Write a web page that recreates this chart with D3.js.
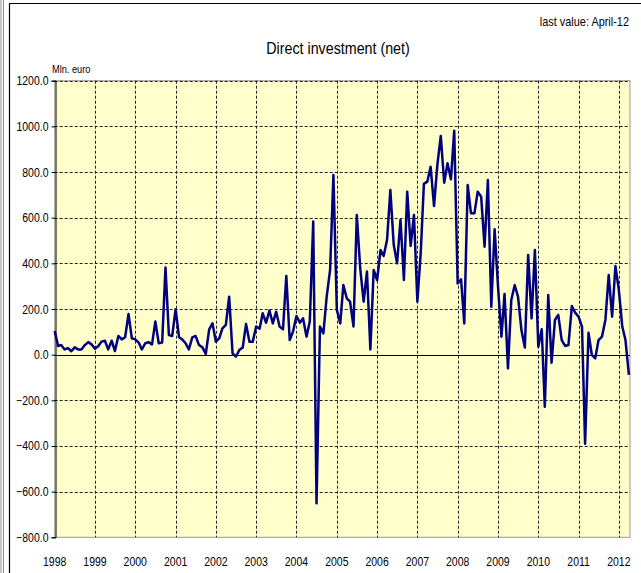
<!DOCTYPE html>
<html lang="en">
<head>
    <meta charset="UTF-8">
    <title>Direct investment (net)</title>
    <script src="https://cdnjs.cloudflare.com/ajax/libs/d3/7.8.5/d3.min.js"></script>
    <style>
        body { margin: 0; background: #fff; }
        text { font-family: "Liberation Sans Narrow", "Arial Narrow", "Liberation Sans", sans-serif; fill: #000; }
    </style>
</head>
<body>
    <div id="draw-here"></div>

    <script>
        var w = 641;
        var h = 573;
        var narrow = 0.84; //horizontal squeeze to mimic the narrow font

        // years shown on the x axis
        var years = [1998, 1999, 2000, 2001, 2002, 2003, 2004, 2005, 2006, 2007, 2008, 2009, 2010, 2011, 2012];

        // monthly net direct investment, Mln. euro (one row per year, Jan..Dec)
        var values1998 = [104, 38, 42, 23, 29, 15, 32, 23, 23, 42, 55, 45];
        var values1999 = [26, 38, 57, 61, 23, 61, 16, 82, 67, 76, 178, 72];
        var values2000 = [67, 53, 23, 50, 55, 45, 145, 50, 53, 382, 86, 82];
        var values2001 = [199, 76, 67, 50, 23, 76, 82, 42, 32, 3, 111, 137];
        var values2002 = [57, 72, 115, 130, 254, 6, -9, 20, 31, 134, 57, 57];
        var values2003 = [123, 114, 181, 140, 193, 137, 188, 123, 111, 345, 64, 101];
        var values2004 = [169, 140, 159, 79, 145, 583, -651, 123, 93, 254, 371, 787];
        var values2005 = [196, 137, 305, 247, 232, 123, 612, 378, 232, 364, 23, 371];
        var values2006 = [327, 458, 432, 502, 721, 480, 400, 590, 327, 714, 476, 612];
        var values2007 = [232, 451, 748, 758, 823, 651, 831, 958, 753, 838, 768, 981];
        var values2008 = [312, 330, 137, 743, 619, 619, 714, 692, 473, 765, 210, 549];
        var values2009 = [298, 79, 266, -60, 239, 305, 254, 108, 31, 437, 159, 458];
        var values2010 = [35, 111, -228, 261, -35, 152, 174, 64, 38, 42, 213, 184];
        var values2011 = [166, 123, -390, 96, -1, -16, 64, 79, 152, 349, 166, 388];
        var values2012 = [283, 123, 64, -89];

        // y axis ticks
        var yTicks = [-800, -600, -400, -200, 0, 200, 400, 600, 800, 1000, 1200];

        var rows = [values1998, values1999, values2000, values2001, values2002, values2003, values2004,
            values2005, values2006, values2007, values2008, values2009, values2010, values2011, values2012];

        //flatten into dated points
        var data = [];
        rows.forEach(function (row, yi) {
            row.forEach(function (v, mi) {
                data.push({ date: new Date(years[yi], mi, 1), value: v });
            });
        });

        var plot = { left: 54.7, top: 80.7, right: 630, bottom: 537.3 };

        var x = d3.scaleTime()
            .domain([new Date(1998, 0, 1), new Date(2012, 3, 11)])
            .range([plot.left, plot.right]);

        var y = d3.scaleLinear()
            .domain([-800, 1200])
            .range([plot.bottom, plot.top]);

        var svg = d3.select("#draw-here")
            .append("svg")
            .attr("width", w)
            .attr("height", h);

        //text helper: places text at (px,py) and squeezes it horizontally
        function label(txt, px, py, size, anchor) {
            return svg.append("text")
                .attr("transform", "translate(" + px + "," + py + ") scale(" + narrow + ",1)")
                .attr("text-anchor", anchor)
                .attr("font-size", size)
                .text(txt);
        }

        //outer frame (left edge and top)
        svg.append("line").attr("x1", 1).attr("x2", 1).attr("y1", 0).attr("y2", h)
            .attr("stroke", "#8a8a8a").attr("stroke-width", 1);
        svg.append("line").attr("x1", 3.5).attr("x2", 3.5).attr("y1", 0).attr("y2", h)
            .attr("stroke", "#8a8a8a").attr("stroke-width", 1);
        svg.append("line").attr("x1", 9.5).attr("x2", 9.5).attr("y1", 3.5).attr("y2", h)
            .attr("stroke", "#000").attr("stroke-width", 1.2);
        svg.append("line").attr("x1", 9.5).attr("x2", w).attr("y1", 3.5).attr("y2", 3.5)
            .attr("stroke", "#000").attr("stroke-width", 1.2);

        //plot background
        svg.append("rect")
            .attr("x", plot.left)
            .attr("y", plot.top)
            .attr("width", plot.right - plot.left)
            .attr("height", plot.bottom - plot.top)
            .attr("fill", "#ffffcc")
            .attr("stroke", "#9a9a9a")
            .attr("stroke-width", 1);

        //horizontal grid
        svg.selectAll(".hgrid")
            .data(yTicks.filter(function (d) { return d !== 0 && d !== -800; }))
            .enter()
            .append("line")
            .attr("class", "hgrid")
            .attr("x1", plot.left)
            .attr("x2", plot.right)
            .attr("y1", function (d) { return Math.round(y(d)) + 0.5; })
            .attr("y2", function (d) { return Math.round(y(d)) + 0.5; })
            .attr("stroke", "#222")
            .attr("stroke-width", 1)
            .attr("stroke-dasharray", "3,2");

        //vertical grid (January of each year)
        svg.selectAll(".vgrid")
            .data(years.slice(1))
            .enter()
            .append("line")
            .attr("class", "vgrid")
            .attr("x1", function (d) { return Math.round(x(new Date(d, 0, 1))) + 0.5; })
            .attr("x2", function (d) { return Math.round(x(new Date(d, 0, 1))) + 0.5; })
            .attr("y1", plot.top)
            .attr("y2", plot.bottom)
            .attr("stroke", "#222")
            .attr("stroke-width", 1)
            .attr("stroke-dasharray", "3,2");

        //zero line
        svg.append("line")
            .attr("x1", plot.left)
            .attr("x2", plot.right)
            .attr("y1", Math.round(y(0)) + 0.5)
            .attr("y2", Math.round(y(0)) + 0.5)
            .attr("stroke", "#000")
            .attr("stroke-width", 1);

        //y axis
        var yAxis = d3.axisLeft(y)
            .tickValues(yTicks)
            .tickSize(4)
            .tickFormat(d3.format(".1f"));

        var gy = svg.append("g")
            .attr("transform", "translate(" + (Math.round(plot.left) + 0.5) + ",0)")
            .call(yAxis);
        gy.select(".domain").attr("stroke", "#000");
        gy.selectAll(".tick line").attr("stroke", "#000");
        gy.selectAll(".tick text")
            .attr("x", 0)
            .attr("transform", "translate(-7,0) scale(" + narrow + ",1)")
            .attr("font-size", "12.5px")
            .attr("font-family", null);

        //x axis labels
        years.forEach(function (yr) {
            label(yr, x(new Date(yr, 0, 1)), 566, "12.5px", "middle");
        });

        //series line
        var line = d3.line()
            .x(function (d) { return x(d.date); })
            .y(function (d) { return y(d.value); });

        svg.append("path")
            .datum(data)
            .attr("d", line)
            .attr("fill", "none")
            .attr("stroke", "#000080")
            .attr("stroke-width", 2.5)
            .attr("stroke-linejoin", "round");

        //titles
        label("Direct investment (net)", 338, 54, "17px", "middle");
        label("last value: April-12", 629, 26, "13px", "end");
        label("Mln. euro", 52, 73, "11px", "start");
    </script>
</body>
</html>
